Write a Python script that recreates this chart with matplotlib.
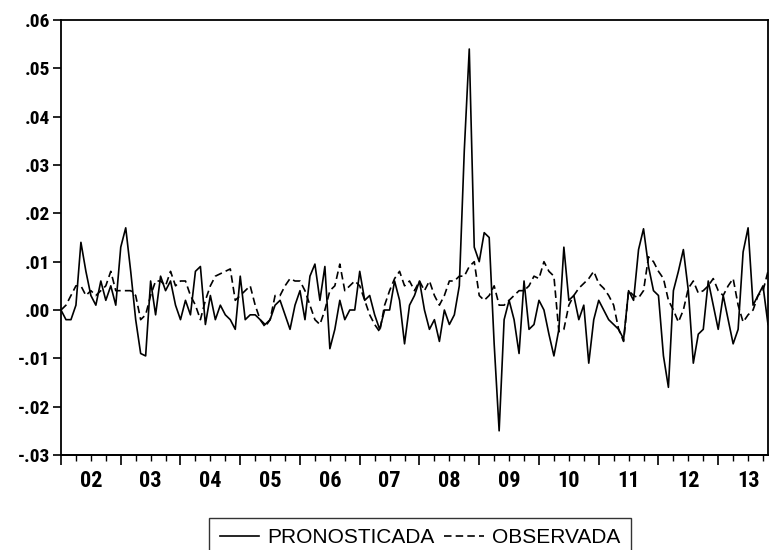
import numpy as np
import matplotlib
matplotlib.use('Agg')
import matplotlib.pyplot as plt
from matplotlib import font_manager
from matplotlib.ticker import FixedLocator

# monthly observations, 2002M01 - 2013M11
year_labels = ['02', '03', '04', '05', '06', '07', '08', '09', '10', '11', '12', '13']

pronosticada = [
    0.000, -0.002, -0.002, 0.001, 0.014, 0.008, 0.003, 0.001, 0.006, 0.002, 0.005, 0.001,
    0.013, 0.017, 0.008, -0.002, -0.009, -0.0095, 0.006, -0.001, 0.007, 0.004, 0.006, 0.001,
    -0.002, 0.002, -0.001, 0.008, 0.009, -0.003, 0.003, -0.002, 0.001, -0.001, -0.002, -0.004,
    0.007, -0.002, -0.001, -0.001, -0.002, -0.003, -0.002, 0.001, 0.002, -0.001, -0.004, 0.001,
    0.004, -0.002, 0.007, 0.0095, 0.002, 0.009, -0.008, -0.004, 0.002, -0.002, 0.000, 0.000,
    0.008, 0.002, 0.003, -0.001, -0.004, 0.000, 0.000, 0.006, 0.002, -0.007, 0.001, 0.003,
    0.006, 0.000, -0.004, -0.002, -0.0065, 0.000, -0.003, -0.001, 0.005, 0.033, 0.054, 0.013,
    0.010, 0.016, 0.015, -0.007, -0.025, -0.002, 0.002, -0.002, -0.009, 0.006, -0.004, -0.003,
    0.002, 0.000, -0.005, -0.0095, -0.004, 0.013, 0.002, 0.003, -0.002, 0.001, -0.011, -0.002,
    0.002, 0.000, -0.002, -0.003, -0.004, -0.006, 0.004, 0.002, 0.0125, 0.0168, 0.009, 0.004,
    0.003, -0.0095, -0.016, 0.004, 0.008, 0.0125, 0.004, -0.011, -0.005, -0.004, 0.006, 0.001,
    -0.004, 0.003, -0.002, -0.007, -0.004, 0.012, 0.017, 0.001, 0.003, 0.005, -0.003,
]

observada = [
    0.000, 0.001, 0.003, 0.005, 0.005, 0.003, 0.004, 0.003, 0.004, 0.005, 0.008, 0.004,
    0.004, 0.004, 0.004, 0.003, -0.002, -0.001, 0.003, 0.006, 0.006, 0.005, 0.008, 0.005,
    0.006, 0.006, 0.003, 0.001, -0.002, 0.002, 0.005, 0.007, 0.0075, 0.008, 0.0085, 0.002,
    0.003, 0.004, 0.005, 0.001, -0.002, -0.0035, -0.002, 0.003, 0.003, 0.005, 0.0065, 0.006,
    0.006, 0.004, 0.001, -0.002, -0.003, 0.000, 0.004, 0.005, 0.0095, 0.004, 0.005, 0.006,
    0.005, 0.002, -0.001, -0.003, -0.0045, 0.001, 0.004, 0.0065, 0.008, 0.005, 0.006, 0.004,
    0.006, 0.004, 0.006, 0.003, 0.001, 0.003, 0.006, 0.006, 0.007, 0.007, 0.009, 0.010,
    0.003, 0.002, 0.003, 0.005, 0.001, 0.001, 0.002, 0.003, 0.004, 0.004, 0.005, 0.007,
    0.0065, 0.010, 0.008, 0.007, -0.0045, -0.004, 0.001, 0.003, 0.0045, 0.0055, 0.0065, 0.008,
    0.0055, 0.0045, 0.003, 0.001, -0.004, -0.0065, 0.004, 0.003, 0.0025, 0.004, 0.011, 0.010,
    0.008, 0.0065, 0.002, 0.000, -0.0025, 0.000, 0.0045, 0.006, 0.0035, 0.004, 0.005, 0.0065,
    0.004, 0.003, 0.005, 0.0065, 0.001, -0.0025, -0.001, 0.000, 0.003, 0.004, 0.008,
]

yticks = [-0.03, -0.02, -0.01, 0.00, 0.01, 0.02, 0.03, 0.04, 0.05, 0.06]

# narrow font for the axis labels if one is around
names = {f.name for f in font_manager.fontManager.ttflist}
narrow = ['Liberation Sans Narrow', 'Arial Narrow', 'Roboto Condensed', 'PT Sans Narrow',
          'Archivo Narrow', 'Fira Sans Condensed', 'IBM Plex Sans Condensed', 'Encode Sans Condensed']
tick_font = next((f for f in narrow if f in names), 'DejaVu Sans')
legend_font = 'Liberation Sans' if 'Liberation Sans' in names else 'DejaVu Sans'

n = len(pronosticada)
t = np.arange(n)

fig = plt.figure(figsize=(7.7, 5.5), dpi=100)
ax = fig.add_axes([61/770, 1 - 455/550, 707/770, 435/550])

ax.plot(t, pronosticada, color='black', lw=1.2, label='PRONOSTICADA')
ax.plot(t, observada, color='black', lw=1.2, dashes=(4.5, 2.5), label='OBSERVADA')

ax.set_xlim(0, n - 1)
ax.set_ylim(-0.03, 0.06)

for s in ax.spines.values():
    s.set_linewidth(1.3)

# y axis
ax.set_yticks(yticks)
ax.set_yticklabels([('%.2f' % v).replace('0.', '.') for v in yticks],
                   fontfamily=tick_font, fontweight='bold', fontsize=14)
ax.tick_params(axis='y', direction='out', length=6, width=1.2, pad=2)

# year labels centred in each year, no tick marks
mid = [12 * k + 6 for k in range(len(year_labels))]
ax.set_xticks(mid)
ax.set_xticklabels(year_labels, fontfamily=tick_font, fontweight='bold', fontsize=16)
ax.tick_params(axis='x', length=0, pad=11)

# year boundary ticks and quarterly minor ticks
sec = ax.secondary_xaxis('bottom')
sec.xaxis.set_major_locator(FixedLocator([12 * k for k in range(len(year_labels))]))
sec.xaxis.set_minor_locator(FixedLocator([3 * k for k in range(n // 3 + 1) if k % 4 != 0]))
sec.tick_params(which='major', direction='out', length=7, width=1.2, labelbottom=False)
sec.tick_params(which='minor', direction='out', length=4, width=1.0)
sec.spines['bottom'].set_linewidth(1.3)

leg = fig.legend(loc='upper center', bbox_to_anchor=(420/770, 1 - 518/550), ncol=2,
                 frameon=True, fancybox=False, edgecolor='black', handlelength=1.9,
                 columnspacing=0.45, handletextpad=0.4, borderpad=0.5, borderaxespad=0,
                 prop={'family': legend_font, 'size': 15})
leg.get_frame().set_linewidth(1.0)

fig.savefig('out.png', dpi=100)
